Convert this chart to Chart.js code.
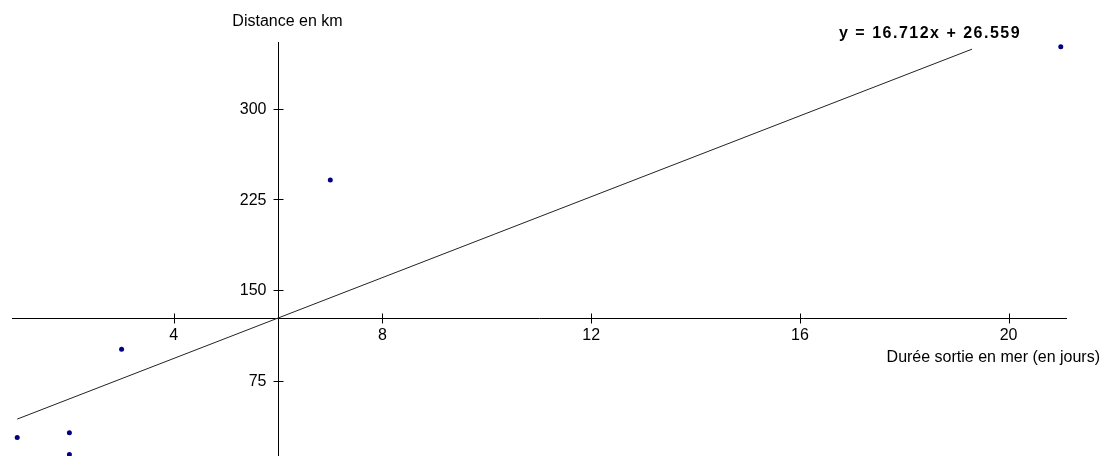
<!DOCTYPE html>
<html>
<head>
<meta charset="utf-8">
<script src="https://cdn.jsdelivr.net/npm/chart.js@4.4.1/dist/chart.umd.min.js"></script>
<style>
    html, body { margin: 0; padding: 0; background: #ffffff; }
    #wrap { width: 1103px; height: 456px; position: relative; }
</style>
</head>
<body>
<div id="wrap"><canvas id="scatterChart"></canvas></div>
<script>
// Observations : durée (jours) / distance (km)
const durations = [1, 2, 2, 3, 7, 21];
const distances = [28, 32, 14, 101, 241, 351];

// Droite de régression (extrémités)
const trendX = [1, 19.3];
const trendY = [43.3, 349.1];
const trendLabel = 'y = 16.712x + 26.559';

// Point de croisement des axes (point moyen)
const crossX = 6;
const crossY = 126.83;

// Graduations
const xTickStep = 4;
const yTickStep = 75;

const xTitle = 'Durée sortie en mer (en jours)';
const yTitle = 'Distance en km';

const FONT = '"Liberation Sans", Arial, sans-serif';

/**
 * Draws tick marks crossing the axes, y tick labels and the text labels
 */
const annotationsPlugin = {
    id: 'annotations',
    afterDraw(chart) {
        const ctx = chart.ctx;
        const xs = chart.scales.x;
        const ys = chart.scales.y;
        const axisX = Math.round(xs.getPixelForValue(crossX)) + 0.5;
        const axisY = Math.round(ys.getPixelForValue(crossY)) + 0.5;

        ctx.save();
        ctx.strokeStyle = '#000000';
        ctx.lineWidth = 1;
        ctx.beginPath();
        xs.ticks.forEach(t => {
            const px = Math.round(xs.getPixelForValue(t.value)) + 0.5;
            ctx.moveTo(px, axisY - 5);
            ctx.lineTo(px, axisY + 5);
        });
        ys.ticks.forEach(t => {
            const py = Math.round(ys.getPixelForValue(t.value)) + 0.5;
            ctx.moveTo(axisX - 5, py);
            ctx.lineTo(axisX + 5, py);
        });
        ctx.stroke();

        ctx.fillStyle = '#000000';
        ctx.font = '16px ' + FONT;

        // Y tick labels, left of the axis
        ctx.textAlign = 'right';
        ctx.textBaseline = 'middle';
        ys.ticks.forEach(t => {
            ctx.fillText(String(t.value), axisX - 12, ys.getPixelForValue(t.value) + 1);
        });

        ctx.textBaseline = 'alphabetic';

        // Y axis title above the axis
        ctx.textAlign = 'center';
        ctx.fillText(yTitle, axisX + 9, chart.chartArea.top - 16);

        // X axis title under the right end of the axis
        ctx.textAlign = 'right';
        ctx.fillText(xTitle, chart.chartArea.right + 34, axisY + 43);

        // Equation near the end of the regression line
        const ex = xs.getPixelForValue(trendX[1]);
        const ey = ys.getPixelForValue(trendY[1]);
        ctx.font = 'bold 16px ' + FONT;
        ctx.letterSpacing = '1.5px';
        ctx.textAlign = 'center';
        ctx.fillText(trendLabel, ex - 42, ey - 11);
        ctx.restore();
    }
};

const ctx = document.getElementById('scatterChart');
new Chart(ctx, {
    type: 'scatter',
    data: {
        datasets: [
            {
                label: 'Distance',
                data: durations.map((d, i) => ({ x: d, y: distances[i] })),
                backgroundColor: '#000080',
                borderColor: '#000080',
                borderWidth: 0,
                pointRadius: 2.5,
                pointHoverRadius: 2.5,
                clip: false
            },
            {
                type: 'line',
                label: 'Tendance',
                data: trendX.map((d, i) => ({ x: d, y: trendY[i] })),
                borderColor: '#222222',
                borderWidth: 1,
                pointRadius: 0,
                fill: false
            }
        ]
    },
    options: {
        responsive: true,
        maintainAspectRatio: false,
        animation: false,
        events: [],
        layout: {
            autoPadding: false,
            // the bottom is negative: the axis box still reserves some room
            padding: { left: 12, right: 37, top: 42, bottom: -21 }
        },
        plugins: {
            legend: { display: false },
            tooltip: { enabled: false }
        },
        scales: {
            x: {
                type: 'linear',
                min: 0.9,
                max: 21.1,
                position: { y: crossY },
                border: { display: true, color: '#000000', width: 1 },
                grid: { display: true, drawOnChartArea: false, drawTicks: false },
                ticks: {
                    stepSize: xTickStep,
                    includeBounds: false,
                    autoSkip: false,
                    maxRotation: 0,
                    padding: 8,
                    color: '#000000',
                    font: { family: FONT, size: 16 }
                }
            },
            y: {
                type: 'linear',
                min: 12.8,
                max: 355,
                position: { x: crossX },
                border: { display: true, color: '#000000', width: 1 },
                grid: { display: true, drawOnChartArea: false, drawTicks: false },
                ticks: {
                    display: false,
                    stepSize: yTickStep,
                    includeBounds: false,
                    autoSkip: false
                }
            }
        }
    },
    plugins: [annotationsPlugin]
});
</script>
</body>
</html>
